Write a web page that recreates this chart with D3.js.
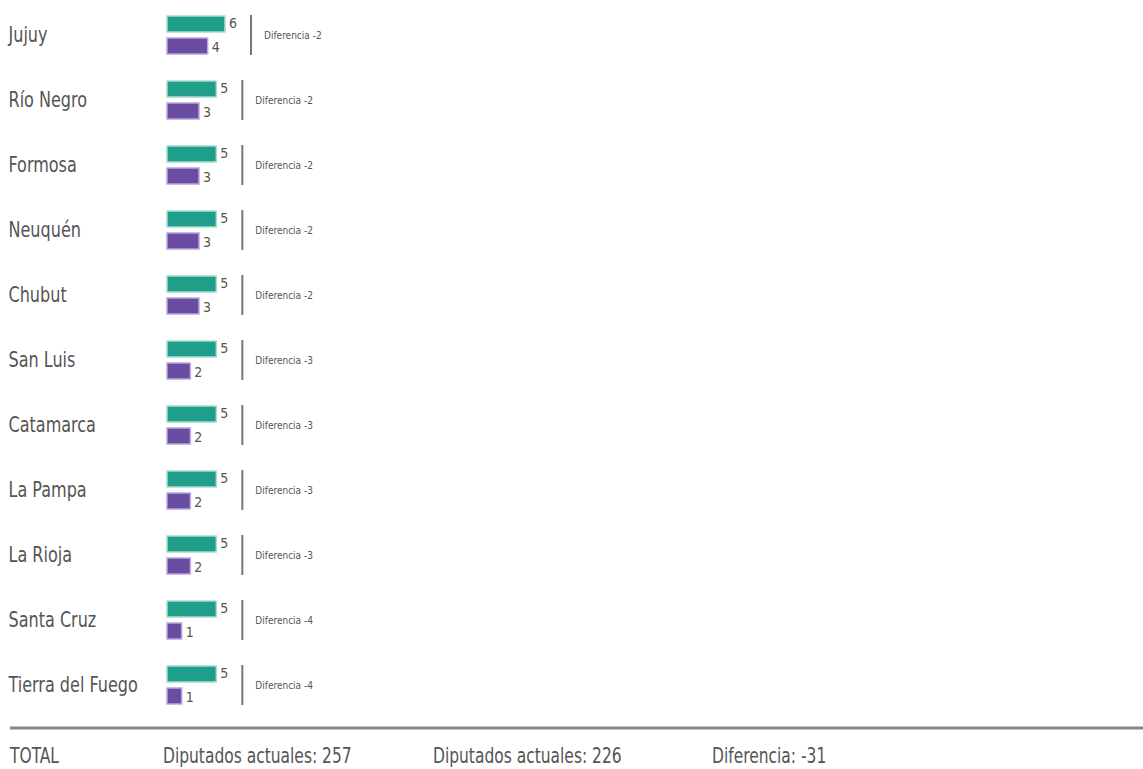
<!DOCTYPE html>
<html>
<head>
<meta charset="utf-8">
<script src="https://cdn.jsdelivr.net/npm/d3@7"></script>
<style>
  body { margin: 0; background: #fff; }
  svg text { font-family: "Liberation Sans Narrow", "DejaVu Sans Condensed", sans-serif; fill: #555; }
</style>
</head>
<body>
<svg id="chart"></svg>
<script>
// data
const provinces = ["Jujuy", "Río Negro", "Formosa", "Neuquén", "Chubut", "San Luis",
  "Catamarca", "La Pampa", "La Rioja", "Santa Cruz", "Tierra del Fuego"]
const actuales = [6, 5, 5, 5, 5, 5, 5, 5, 5, 5, 5]
const nuevos = [4, 3, 3, 3, 3, 2, 2, 2, 2, 1, 1]
const totalLabels = ["TOTAL", "Diputados actuales: 257", "Diputados actuales: 226", "Diferencia: -31"]

const width = 1143, height = 769
const barX = 167, barH = 16

const svg = d3.select("#chart").attr("width", width).attr("height", height)

const y = d3.scaleBand().domain(provinces).range([2.5, 717.5]).padding(0)
const x = d3.scaleLinear().domain([0, 6]).range([6, 58])

const rows = provinces.map((p, i) => ({ name: p, a: actuales[i], n: nuevos[i], d: nuevos[i] - actuales[i] }))

const g = svg.selectAll("g.row")
  .data(rows)
  .join("g")
  .attr("class", "row")
  .attr("transform", d => `translate(0,${y(d.name) + y.bandwidth() / 2})`)

// province name
g.append("text")
  .attr("x", 10)
  .attr("y", 0)
  .attr("dy", "0.35em")
  .attr("font-size", 21)
  .attr("transform", "scale(0.85,1)")
  .text(d => d.name)

// bars
g.append("rect")
  .attr("x", barX)
  .attr("y", -barH - 3)
  .attr("width", d => x(d.a))
  .attr("height", barH)
  .attr("fill", "#1f9e89")
  .attr("stroke", "#a9dcd0")
  .attr("stroke-width", 1.5)

g.append("rect")
  .attr("x", barX)
  .attr("y", 3)
  .attr("width", d => x(d.n))
  .attr("height", barH)
  .attr("fill", "#6a4ca3")
  .attr("stroke", "#b8a8da")
  .attr("stroke-width", 1.5)

// value labels
g.append("text")
  .attr("x", d => barX + x(d.a) + 4)
  .attr("y", -barH / 2 - 4)
  .attr("dy", "0.35em")
  .attr("font-size", 14)
  .text(d => d.a)

g.append("text")
  .attr("x", d => barX + x(d.n) + 4)
  .attr("y", barH / 2 + 4)
  .attr("dy", "0.35em")
  .attr("font-size", 14)
  .text(d => d.n)

// divider + difference
g.append("line")
  .attr("x1", d => barX + x(d.a) + 26)
  .attr("x2", d => barX + x(d.a) + 26)
  .attr("y1", -20)
  .attr("y2", 20)
  .attr("stroke", "#777")
  .attr("stroke-width", 2)

g.append("text")
  .attr("x", d => barX + x(d.a) + 39)
  .attr("y", 0)
  .attr("dy", "0.35em")
  .attr("font-size", 10)
  .attr("fill", "#888")
  .text(d => `Diferencia ${d.d}`)

// total row
svg.append("line")
  .attr("x1", 10).attr("x2", width)
  .attr("y1", 728).attr("y2", 728)
  .attr("stroke", "#888")
  .attr("stroke-width", 3)

const totalX = [10, 163, 433, 712]
svg.selectAll("text.total")
  .data(totalLabels)
  .join("text")
  .attr("class", "total")
  .attr("transform", (d, i) => `translate(${totalX[i]},756) scale(0.82,1)`)
  .attr("dy", "0.35em")
  .attr("font-size", 21)
  .text(d => d)
</script>
</body>
</html>
